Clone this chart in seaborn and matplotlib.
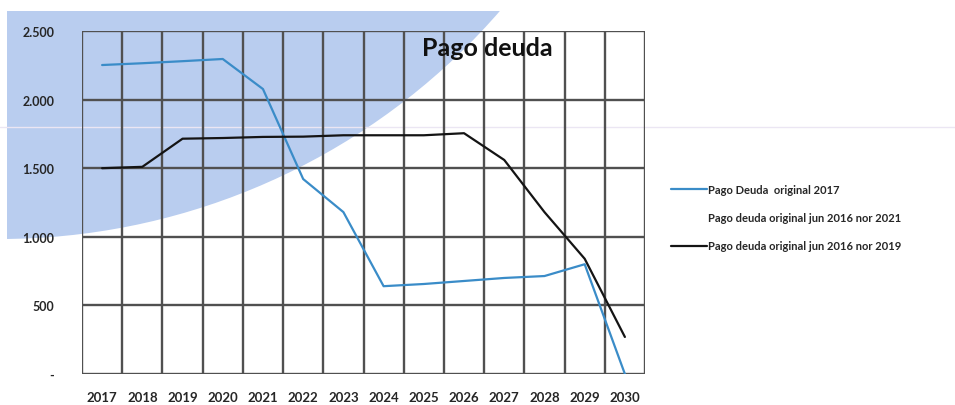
import numpy as np
import pandas as pd
import seaborn as sns
import matplotlib
matplotlib.use("Agg")
import matplotlib.pyplot as plt
from matplotlib.patches import Circle, Rectangle
from matplotlib.lines import Line2D

years = list(range(2017, 2031))
pago_2017 = [2252, 2265, 2280, 2296, 2077, 1421, 1180, 640, 656, 678, 700, 714, 800, 0]
pago_nor_2019 = [1500, 1510, 1715, 1720, 1728, 1730, 1740, 1740, 1740, 1755, 1560, 1180, 840, 270]
serie_nombres = ["Pago Deuda  original 2017",
                 "Pago deuda original jun 2016 nor 2021",
                 "Pago deuda original jun 2016 nor 2019"]
y_ticks = [0, 500, 1000, 1500, 2000, 2500]
y_labels = ["-", "500", "1.000", "1.500", "2.000", "2.500"]

sns.set_theme(style="white")
plt.rcParams["font.family"] = ["Lato", "DejaVu Sans"]

df = pd.DataFrame({
    "anio": years * 2,
    "valor": pago_2017 + pago_nor_2019,
    "serie": [serie_nombres[0]] * len(years) + [serie_nombres[2]] * len(years),
})

fig = plt.figure(figsize=(9.55, 4.06), dpi=100)

# fondo con el arco azul claro
bg = fig.add_axes([0, 0, 1, 1], zorder=-1)
bg.set_xlim(0, 955)
bg.set_ylim(406, 0)
bg.axis("off")
clip = Rectangle((7, 12), 960, 400, transform=bg.transData)
arc = Circle((0, -422), 662, facecolor="#b9cdef", edgecolor="none")
bg.add_patch(arc)
arc.set_clip_path(clip)
bg.plot([0, 955], [128, 128], color="#ebe6f3", lw=1)

ax = fig.add_axes([82 / 955, 1 - 375 / 406, 563 / 955, 343 / 406])
ax.set_facecolor("none")
colores = {serie_nombres[0]: "#3a8cc8", serie_nombres[2]: "#141414"}
sns.lineplot(data=df, x="anio", y="valor", hue="serie", palette=colores,
             linewidth=1.6, legend=False, ax=ax)

ax.set_xlim(2016.5, 2030.5)
ax.set_ylim(0, 2500)
ax.set_xticks(years)
ax.set_xticklabels([str(y) for y in years], fontsize=9.5, fontweight="bold")
ax.set_xticks(np.arange(2016.5, 2031, 1), minor=True)
ax.set_yticks(y_ticks)
ax.set_yticklabels(y_labels, fontsize=9, fontweight="bold")
ax.tick_params(axis="x", which="major", length=0, pad=12)
ax.tick_params(axis="x", which="minor", length=5, width=1.7, color="#505050")
ax.tick_params(axis="y", which="major", length=4, width=1.7, color="#505050", pad=16)
ax.grid(True, axis="y", which="major", color="#505050", lw=1.7)
ax.grid(True, axis="x", which="minor", color="#505050", lw=1.7)
ax.grid(False, axis="x", which="major")
for s in ax.spines.values():
    s.set_visible(False)
ax.set_xlabel("")
ax.set_ylabel("")
ax.set_axisbelow(True)

fig.text(487 / 955, 1 - 48 / 406, "Pago deuda", fontsize=18, fontweight="bold",
         ha="center", va="center", color="#111111")

handles = [Line2D([], [], color="#3a8cc8", lw=1.6),
           Line2D([], [], color="white", lw=1.6),
           Line2D([], [], color="#141414", lw=1.6)]
fig.legend(handles, serie_nombres, loc="upper left",
           bbox_to_anchor=(661 / 955, 1 - 175 / 406), frameon=False,
           handlelength=3.2, handletextpad=0.1, labelspacing=1.55,
           prop={"weight": "bold", "size": 8})

fig.savefig("out.png", dpi=100)
